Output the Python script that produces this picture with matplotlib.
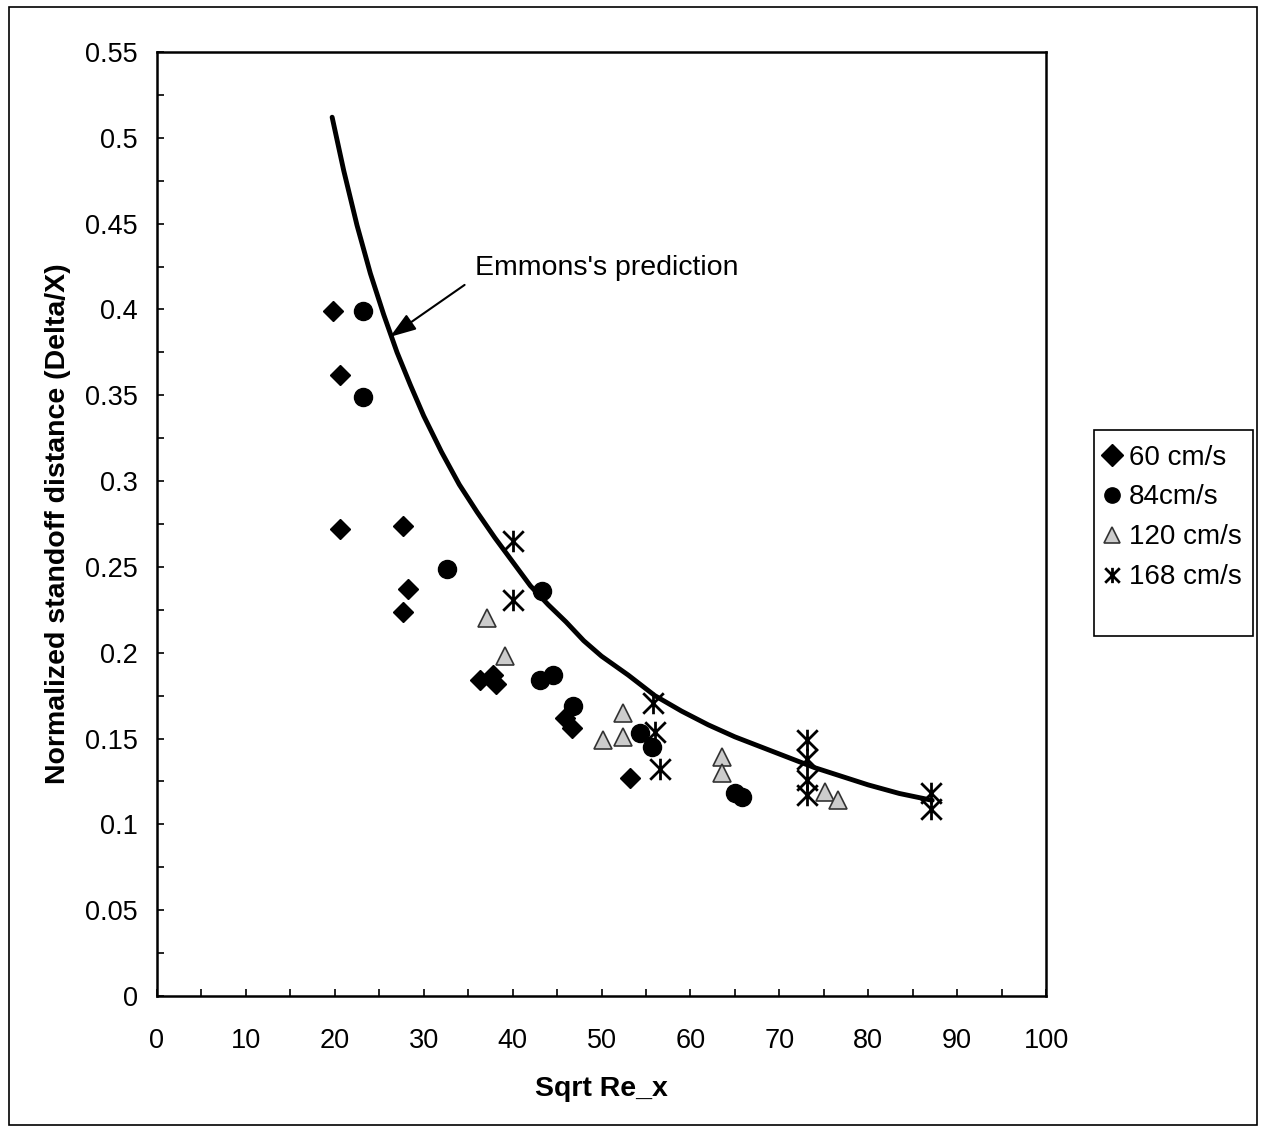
import matplotlib
matplotlib.use("Agg")
import matplotlib.pyplot as plt
from matplotlib.path import Path
from matplotlib.patches import Rectangle
from matplotlib.ticker import MultipleLocator

plt.rcParams['font.family'] = ['Liberation Sans', 'DejaVu Sans']

# ---- data ----
x60 = [19.8, 20.6, 20.6, 27.7, 28.2, 27.7, 36.3, 37.8, 38.1, 45.9, 46.7, 53.2]
y60 = [0.399, 0.362, 0.272, 0.274, 0.237, 0.224, 0.184, 0.187, 0.182, 0.162, 0.156, 0.127]

x84 = [23.2, 23.2, 32.6, 43.3, 43.1, 44.5, 46.8, 54.3, 55.7, 65.0, 65.8]
y84 = [0.399, 0.349, 0.249, 0.236, 0.184, 0.187, 0.169, 0.153, 0.145, 0.118, 0.116]

x120 = [37.1, 39.1, 50.2, 52.4, 52.4, 63.6, 63.6, 75.1, 76.6]
y120 = [0.220, 0.198, 0.149, 0.165, 0.151, 0.139, 0.130, 0.119, 0.114]

x168 = [40.0, 40.0, 55.8, 56.0, 56.6, 73.1, 73.1, 73.1, 73.1, 87.1, 87.1]
y168 = [0.265, 0.231, 0.171, 0.154, 0.132, 0.149, 0.138, 0.126, 0.117, 0.118, 0.109]

curve_x = [19.7, 21, 22.5, 24, 25.5, 27, 28.5, 30, 32, 34, 36, 38, 40, 42, 44, 46, 48, 50,
           53, 56, 59, 62, 65, 68, 71, 74, 77, 80, 83.5, 87.2]
curve_y = [0.512, 0.481, 0.449, 0.421, 0.397, 0.375, 0.356, 0.338, 0.317, 0.298, 0.282, 0.267,
           0.253, 0.239, 0.228, 0.218, 0.207, 0.198, 0.187, 0.175, 0.166, 0.158, 0.151, 0.145,
           0.139, 0.133, 0.128, 0.123, 0.118, 0.114]

labels = ['60 cm/s', '84cm/s', '120 cm/s', '168 cm/s']
curve_label = "Emmons's prediction"

# ---- figure ----
fig = plt.figure(figsize=(12.62, 11.32), dpi=100)
ax = fig.add_axes([157/1262, 1-996/1132, (1046-157)/1262, (996-52)/1132])

# star (asterisk) marker: X with vertical bar
star = Path([(-1, -1), (1, 1), (-1, 1), (1, -1), (0, -1.05), (0, 1.05)],
            [Path.MOVETO, Path.LINETO, Path.MOVETO, Path.LINETO, Path.MOVETO, Path.LINETO])

ax.plot(curve_x, curve_y, color='black', lw=3.5, zorder=2,
        solid_joinstyle='round', solid_capstyle='round')

h1, = ax.plot(x60, y60, ls='none', marker='D', ms=10.5, color='black', zorder=3)
h2, = ax.plot(x84, y84, ls='none', marker='o', ms=13, color='black', zorder=3)
h3, = ax.plot(x120, y120, ls='none', marker='^', ms=13.5, mfc='#cccccc', mec='#333333', mew=1.2, zorder=3)
h4, = ax.plot(x168, y168, ls='none', marker=star, ms=15.5, color='black', mew=2.0, zorder=3)

ax.set_xlim(0, 100)
ax.set_ylim(0, 0.55)
ax.xaxis.set_major_locator(MultipleLocator(10))
ax.xaxis.set_minor_locator(MultipleLocator(5))
ax.yaxis.set_major_locator(MultipleLocator(0.05))
ax.yaxis.set_minor_locator(MultipleLocator(0.025))

def yfmt(v, pos):
    s = ('%.2f' % v).rstrip('0').rstrip('.')
    return s if s else '0'
ax.yaxis.set_major_formatter(plt.FuncFormatter(yfmt))

ax.tick_params(which='both', direction='in', length=5, width=1.2, labelsize=19.5)
ax.tick_params(axis='x', pad=23)
ax.tick_params(axis='y', pad=14)
for sp in ax.spines.values():
    sp.set_linewidth(1.8)

ax.set_xlabel('Sqrt Re_x', fontsize=20.5, fontweight='bold', labelpad=16)
ax.set_ylabel('Normalized standoff distance (Delta/X)', fontsize=20.5, fontweight='bold', labelpad=10)

ax.text(35.8, 0.4243, curve_label, fontsize=20.5, ha='left', va='center')
ax.annotate('', xy=(26.2, 0.384), xytext=(34.6, 0.4143),
            arrowprops=dict(arrowstyle='-|>,head_length=1.6,head_width=0.55', color='black',
                            lw=1.5, shrinkA=0, shrinkB=0))

# legend box
fig.patches.append(Rectangle((1094/1262, 1-636/1132), 159/1262, 206/1132,
                             transform=fig.transFigure, fill=False, ec='black', lw=1.2))
leg = fig.legend([h1, h2, h3, h4], labels, loc='upper left',
                 bbox_to_anchor=(1097/1262, 1-439/1132), frameon=False,
                 fontsize=20, handlelength=0.7, handletextpad=0.25,
                 labelspacing=0.5, borderaxespad=0, borderpad=0.2)
for hd in leg.legend_handles:
    hd.set_markersize(11)

# outer chart border
fig.patches.append(Rectangle((9/1262, 1-1125/1132), 1248/1262, 1118/1132,
                             transform=fig.transFigure, fill=False, ec='black', lw=1.2))

fig.savefig('out.png', dpi=100)
